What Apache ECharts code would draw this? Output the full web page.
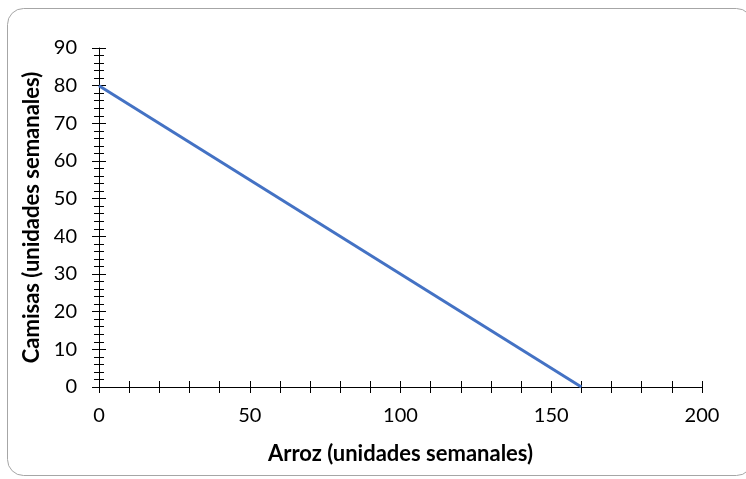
<!DOCTYPE html>
<html>
<head>
<meta charset="utf-8">
<script src="https://cdn.jsdelivr.net/npm/echarts@6/dist/echarts.min.js"></script>
<style>
  html, body { margin: 0; padding: 0; background: #fff; }
  #chart { width: 746px; height: 479px; }
</style>
</head>
<body>
<div id="chart"></div>
<script>
// Production possibilities frontier: rice vs. shirts (weekly units)
const arroz = [0, 160];
const camisas = [80, 0];
const xTitle = 'Arroz (unidades semanales)';
const yTitle = 'Camisas (unidades semanales)';

const FONT = 'Lato, "Open Sans", sans-serif';
const chart = echarts.init(document.getElementById('chart'), null, { renderer: 'canvas' });

const tickStyle = { color: '#000', width: 1 };
const labelStyle = { fontFamily: FONT, fontSize: 20, color: '#000' };
const titleStyle = { fontFamily: FONT, fontSize: 22, fontWeight: 'bold', color: '#000' };

// Ticks cross the axis line: one axis draws them outward, a twin draws them inward
function xAxisDef(inside) {
  return {
    type: 'value', min: 0, max: 200, interval: 50, position: 'bottom',
    name: inside ? '' : xTitle, nameLocation: 'middle', nameGap: 56,
    nameTextStyle: titleStyle,
    axisLine: { show: !inside, onZero: false, lineStyle: tickStyle },
    axisTick: { show: true, inside: inside, length: 6, lineStyle: tickStyle },
    minorTick: { show: true, splitNumber: 5, length: 6, lineStyle: tickStyle },
    axisLabel: Object.assign({ show: !inside, margin: 19 }, labelStyle),
    splitLine: { show: false }
  };
}
function yAxisDef(inside) {
  return {
    type: 'value', min: 0, max: 90, interval: 10, position: 'left',
    name: inside ? '' : yTitle, nameLocation: 'middle', nameGap: 52, nameRotate: 90,
    nameTextStyle: titleStyle,
    axisLine: { show: !inside, onZero: false, lineStyle: tickStyle },
    axisTick: { show: true, inside: inside, length: 7, lineStyle: tickStyle },
    minorTick: { show: true, splitNumber: 5, length: 5, lineStyle: tickStyle },
    axisLabel: Object.assign({ show: !inside, margin: 22 }, labelStyle),
    splitLine: { show: false }
  };
}

chart.setOption({
  animation: false,
  backgroundColor: '#fff',
  graphic: [{
    type: 'rect', silent: true, z: -10,
    shape: { x: 7.5, y: 8.5, width: 745, height: 467, r: 16 },
    style: { fill: 'none', stroke: '#a6a6a6', lineWidth: 1 }
  }],
  grid: { left: 99, right: 44, top: 48, bottom: 92, containLabel: false },
  xAxis: [xAxisDef(false), xAxisDef(true)],
  yAxis: [yAxisDef(false), yAxisDef(true)],
  series: [{
    type: 'line',
    xAxisIndex: 0, yAxisIndex: 0,
    data: arroz.map((x, i) => [x, camisas[i]]),
    showSymbol: false,
    lineStyle: { color: '#4472C4', width: 3 },
    z: 5
  }]
});
</script>
</body>
</html>
